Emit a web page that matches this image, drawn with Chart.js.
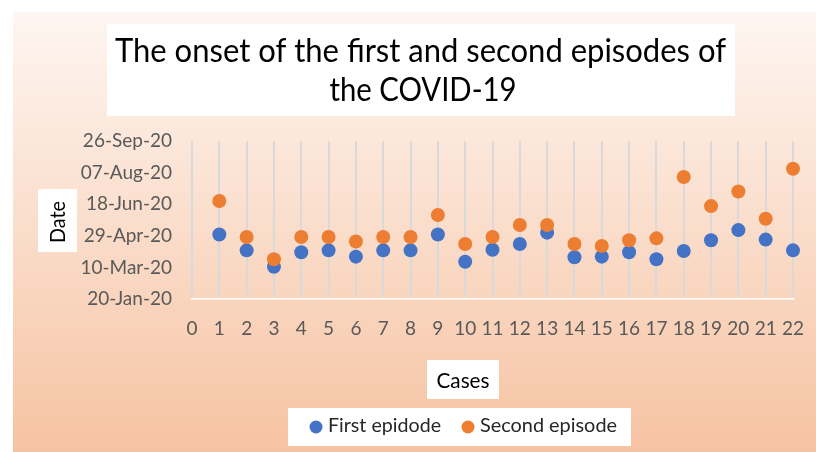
<!DOCTYPE html>
<html>
<head>
<meta charset="utf-8">
<script src="https://cdn.jsdelivr.net/npm/chart.js@4.4.1/dist/chart.umd.min.js"></script>
<style>
  html, body { margin: 0; padding: 0; background: #ffffff; }
  #wrap { width: 816px; height: 452px; }
</style>
</head>
<body>
<div id="wrap"><canvas id="c" width="816" height="452"></canvas></div>
<script>
// ---------- data ----------
const cases = [1,2,3,4,5,6,7,8,9,10,11,12,13,14,15,16,17,18,19,20,21,22];
const firstEpisode = ['2020-05-01','2020-04-06','2020-03-11','2020-04-03','2020-04-06','2020-03-27','2020-04-06','2020-04-06','2020-05-01','2020-03-19','2020-04-07','2020-04-16','2020-05-04','2020-03-26','2020-03-27','2020-04-03','2020-03-23','2020-04-05','2020-04-22','2020-05-08','2020-04-23','2020-04-06'];
const secondEpisode = ['2020-06-23','2020-04-27','2020-03-23','2020-04-27','2020-04-27','2020-04-20','2020-04-27','2020-04-27','2020-06-01','2020-04-16','2020-04-27','2020-05-16','2020-05-16','2020-04-16','2020-04-13','2020-04-22','2020-04-25','2020-07-31','2020-06-15','2020-07-08','2020-05-26','2020-08-13'];
const yTickLabels = ['20-Jan-20','10-Mar-20','29-Apr-20','18-Jun-20','07-Aug-20','26-Sep-20'];
const xTickLabels = ['0','1','2','3','4','5','6','7','8','9','10','11','12','13','14','15','16','17','18','19','20','21','22'];
const seriesNames = ['First epidode','Second episode'];
const titleLines = ['The onset of the first and second episodes of','the COVID-19'];
const xTitle = 'Cases';
const yTitle = 'Date';

// ---------- helpers ----------
const ORIGIN = Date.UTC(2020, 0, 20);
function dayOf(s) {
  const p = s.split('-').map(Number);
  return (Date.UTC(p[0], p[1] - 1, p[2]) - ORIGIN) / 86400000;
}
const FONT = 'Lato, "Noto Sans", sans-serif';
const BLUE = '#4472C4', ORANGE = '#ED7D31';

function fitText(ctx, text, x, y, size, color, targetW, align) {
  ctx.save();
  ctx.font = size + 'px ' + FONT;
  ctx.fillStyle = color;
  ctx.textBaseline = 'alphabetic';
  const w = ctx.measureText(text).width;
  const sx = targetW ? targetW / w : 1;
  ctx.translate(x, y);
  ctx.scale(sx, 1);
  ctx.textAlign = align || 'center';
  ctx.fillText(text, 0, 0);
  ctx.restore();
}

const decor = {
  id: 'decor',
  beforeDraw(chart) {
    const ctx = chart.ctx;
    ctx.save();
    ctx.fillStyle = '#ffffff';
    ctx.fillRect(0, 0, chart.width, chart.height);
    const g = ctx.createLinearGradient(0, 12, 0, 452);
    g.addColorStop(0, '#fef6f2');
    g.addColorStop(1, '#f6c3a2');
    ctx.fillStyle = g;
    ctx.fillRect(13, 12, chart.width - 13, chart.height - 12);
    ctx.restore();
  },
  afterDraw(chart) {
    const ctx = chart.ctx;
    ctx.save();
    ctx.fillStyle = '#ffffff';
    ctx.fillRect(107, 24, 628, 92);
    ctx.fillRect(38, 189, 39, 63);
    ctx.fillRect(427, 360, 72, 39);
    ctx.fillRect(288, 408, 343, 38);
    ctx.restore();

    fitText(ctx, titleLines[0], 420.5, 62, 33, '#000000', 611);
    fitText(ctx, titleLines[1], 423, 100.5, 33, '#000000', 187);

    ctx.save();
    ctx.translate(65, 222);
    ctx.rotate(-Math.PI / 2);
    fitText(ctx, yTitle, 0, 0, 21, '#000000', 42);
    ctx.restore();

    fitText(ctx, xTitle, 463, 388, 21, '#000000', 53);

    const items = chart.data.datasets;
    const cx = [316, 468];
    const tw = [113, 137];
    items.forEach((ds, i) => {
      ctx.save();
      ctx.beginPath();
      ctx.fillStyle = ds.backgroundColor;
      ctx.arc(cx[i], 427, 6.5, 0, Math.PI * 2);
      ctx.fill();
      ctx.restore();
      fitText(ctx, ds.label, cx[i] + 12, 432, 20, '#262626', tw[i], 'left');
    });
  }
};

const ctx = document.getElementById('c').getContext('2d');
new Chart(ctx, {
  type: 'scatter',
  data: {
    datasets: [
      {
        label: seriesNames[0],
        data: cases.map((c, i) => ({ x: c, y: dayOf(firstEpisode[i]) })),
        backgroundColor: BLUE,
        borderColor: BLUE,
        borderWidth: 0,
        pointRadius: 7,
        clip: false,
        order: 1
      },
      {
        label: seriesNames[1],
        data: cases.map((c, i) => ({ x: c, y: dayOf(secondEpisode[i]) })),
        backgroundColor: ORANGE,
        borderColor: ORANGE,
        borderWidth: 0,
        pointRadius: 7,
        clip: false,
        order: 0
      }
    ]
  },
  options: {
    responsive: false,
    animation: false,
    devicePixelRatio: 1,
    layout: { padding: { left: 0, top: 141, right: 23, bottom: 113 } },
    plugins: {
      legend: { display: false },
      title: { display: false },
      tooltip: { enabled: false }
    },
    scales: {
      x: {
        type: 'linear',
        min: 0, max: 22,
        afterFit(scale) { scale.height = 40; scale.paddingLeft = 0; scale.paddingRight = 0; },
        afterBuildTicks(scale) { scale.ticks = xTickLabels.map(v => ({ value: Number(v) })); },
        ticks: {
          callback: (v, i) => xTickLabels[i],
          color: '#595959',
          font: { family: FONT, size: 19 },
          padding: 18,
          maxRotation: 0,
          autoSkip: false
        },
        grid: { color: '#d9d9d9', lineWidth: 2, drawTicks: false },
        border: { display: true, color: '#ffffff', width: 1.5 }
      },
      y: {
        type: 'linear',
        min: dayOf('2020-01-20'), max: dayOf('2020-09-26'),
        afterFit(scale) { scale.width = 192; scale.paddingTop = 0; scale.paddingBottom = 0; },
        afterBuildTicks(scale) { scale.ticks = yTickLabels.map((t, i) => ({ value: i * 50 })); },
        ticks: {
          callback: (v, i) => yTickLabels[i],
          color: '#595959',
          font: { family: FONT, size: 19 },
          padding: 20,
          autoSkip: false
        },
        grid: { display: false, drawTicks: false },
        border: { display: false }
      }
    }
  },
  plugins: [decor]
});
</script>
</body>
</html>
